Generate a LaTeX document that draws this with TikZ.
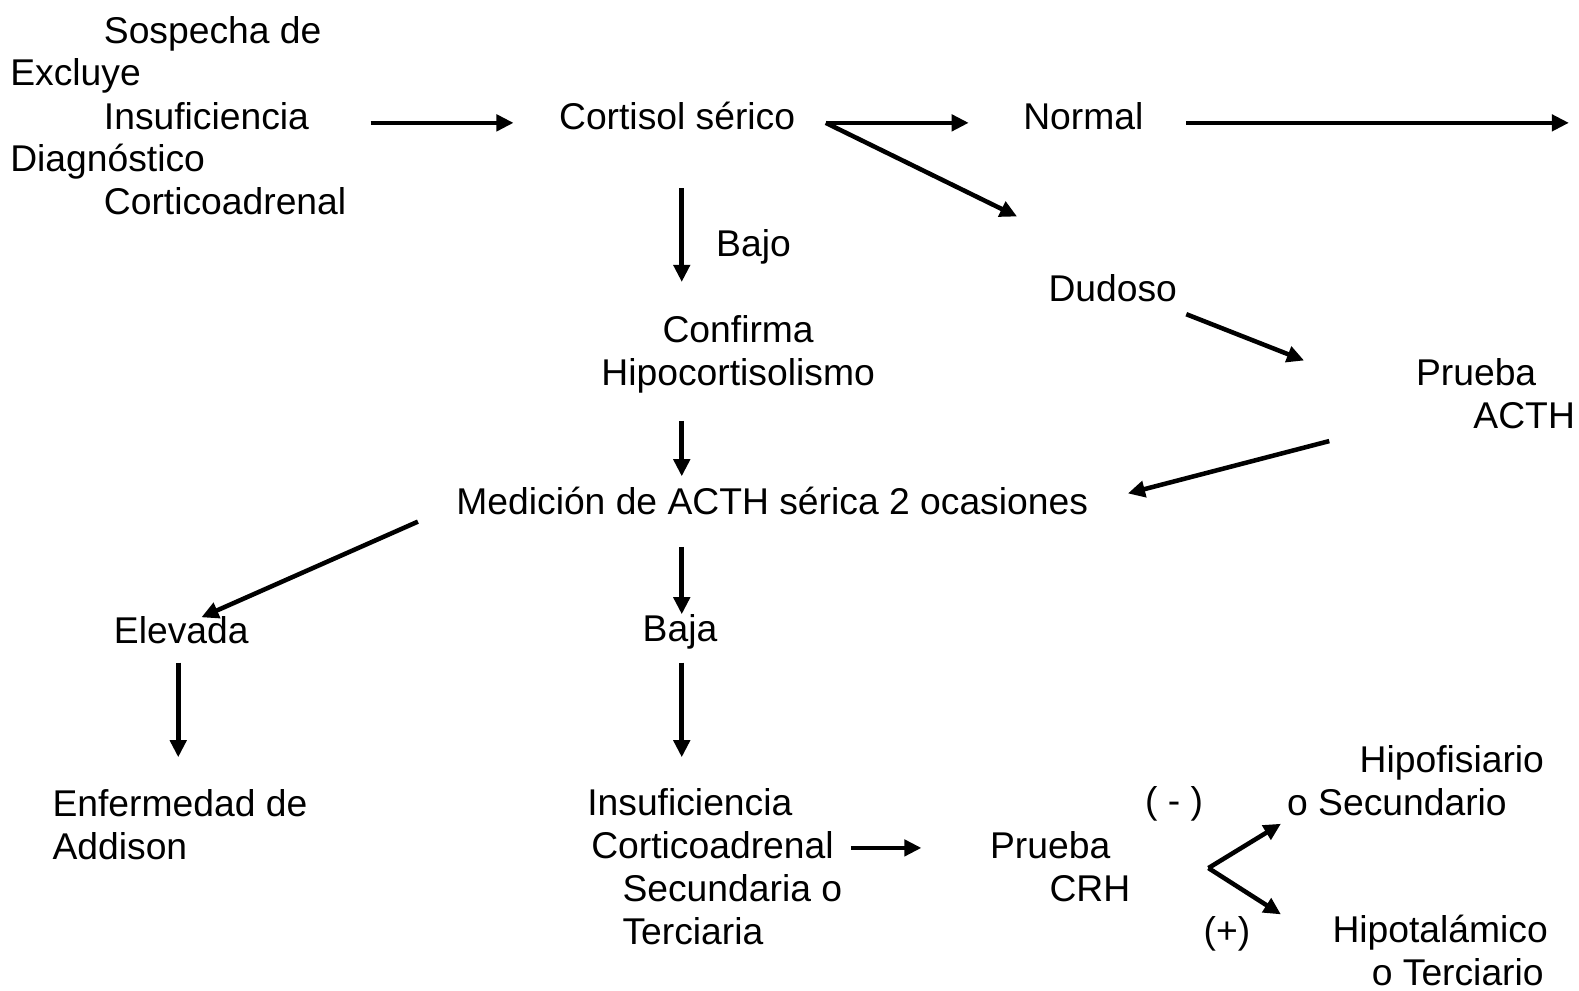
\documentclass[tikz,border=0pt]{standalone}
\usepackage{fontspec}
\setmainfont{Liberation Sans}
\usetikzlibrary{arrows.meta}

\begin{document}
\begin{tikzpicture}[x=1pt, y=-1pt,
  txt/.style = {inner sep=0pt, anchor=west, align=left, font=\fontsize{37}{42.7}\selectfont},
  arr/.style = {line width=4.5pt, -{Triangle[length=17pt,width=16pt]}}]
  \useasboundingbox (0,0) rectangle (1568,983.1);
  \node[txt, font=\fontsize{37}{85}\selectfont] (sospecha) at (103,115) {Sospecha de\\Insuficiencia\\Corticoadrenal};
  \node[txt, font=\fontsize{37}{85}\selectfont] (excluye) at (10,118) {Excluye\\Diagn\'ostico};
  \node[txt] (cortisol) at (555,115) {Cortisol s\'erico};
  \node[txt] (normal) at (1016,115) {Normal};
  \coordinate (salida) at (1558,122);
  \node[txt] (bajo) at (711,245) {Bajo};
  \node[txt, anchor=center, align=center] (confirma) at (733,352) {Confirma\\Hipocortisolismo};
  \node[txt] (dudoso) at (1041,286) {Dudoso};
  \node[txt] (pruebaacth) at (1406,391) {Prueba\\\hspace*{57pt}ACTH};
  \node[txt] (medicion) at (453,497) {Medici\'on de ACTH s\'erica 2 ocasiones};
  \node[txt] (elevada) at (113,626) {Elevada};
  \node[txt] (baja) at (638,627) {Baja};
  \node[txt] (addison) at (52,818.5) {Enfermedad de\\Addison};
  \node[txt] (secundaria) at (583,861) {Insuficiencia\\\hspace*{4pt}Corticoadrenal\\\hspace*{35pt}Secundaria o\\\hspace*{35pt}Terciaria};
  \node[txt] (pruebacrh) at (983,861) {Prueba\\\hspace*{59pt}CRH};
  \node[txt] (neg) at (1137,798) {( - )};
  \node[txt] (pos) at (1195,927) {(+)};
  \node[txt] (hipofisiario) at (1278,775) {\hspace*{72pt}Hipofisiario\\o Secundario};
  \node[txt] (hipotalamico) at (1323,944) {Hipotal\'amico\\\hspace*{39pt}o Terciario};

  \draw[arr] ([xshift=265pt,yshift=-7pt]sospecha.west) -- ([xshift=-45pt,yshift=-7pt]cortisol.west);
  \draw[arr] ([xshift=265pt,yshift=-7pt]cortisol.west) -- ([xshift=-54pt,yshift=-7pt]normal.west);
  \draw[arr] ([xshift=265pt,yshift=-7pt]cortisol.west) -- ([xshift=-31pt,yshift=71pt]dudoso.west);
  \draw[arr] ([xshift=162pt,yshift=-7pt]normal.west) -- (salida);
  \draw[arr] ([xshift=122pt,yshift=-72pt]cortisol.west) -- ([xshift=-56pt,yshift=72pt]confirma.center);
  \draw[arr] ([xshift=-56pt,yshift=-66pt]confirma.center) -- ([xshift=224pt,yshift=24pt]medicion.west);
  \draw[arr] ([xshift=137pt,yshift=-26pt]dudoso.west) -- ([xshift=-111pt,yshift=33pt]pruebaacth.west);
  \draw[arr] ([xshift=-86pt,yshift=-47pt]pruebaacth.west) -- ([xshift=667pt,yshift=7pt]medicion.west);
  \draw[arr] ([xshift=-38pt,yshift=-21pt]medicion.west) -- ([xshift=87pt,yshift=13pt]elevada.west);
  \draw[arr] ([xshift=224pt,yshift=-46pt]medicion.west) -- ([xshift=39pt,yshift=17pt]baja.west);
  \draw[arr] ([xshift=64pt,yshift=-32pt]elevada.west) -- ([xshift=125pt,yshift=66.5pt]addison.west);
  \draw[arr] ([xshift=39pt,yshift=-31pt]baja.west) -- ([xshift=94pt,yshift=109pt]secundaria.west);
  \draw[arr] ([xshift=262pt,yshift=19pt]secundaria.west) -- ([xshift=-68pt,yshift=19pt]pruebacrh.west);
  \draw[arr] ([xshift=217pt,yshift=-1pt]pruebacrh.west) -- ([xshift=-6pt,yshift=-43pt]hipofisiario.west);
  \draw[arr] ([xshift=217pt,yshift=-1pt]pruebacrh.west) -- ([xshift=-51pt,yshift=36pt]hipotalamico.west);
\end{tikzpicture}
\end{document}
